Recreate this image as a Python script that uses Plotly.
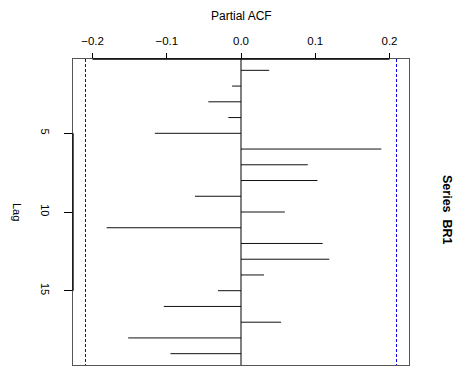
import plotly.graph_objects as go

# Data (rotated R PACF plot)
lags = list(range(1, 20))
pacf = [0.038, -0.012, -0.044, -0.017, -0.116, 0.189, 0.090, 0.103, -0.062,
        0.059, -0.181, 0.110, 0.119, 0.031, -0.031, -0.104, 0.054, -0.152, -0.095]
ci = 0.2095
x_ticks = [-0.2, -0.1, 0.0, 0.1, 0.2]
x_tick_labels = ["\u22120.2", "\u22120.1", "0.0", "0.1", "0.2"]
y_ticks = [5, 10, 15]
y_tick_labels = ["5", "10", "15"]

W, H = 457, 366
L, R, T, B = 73, 48, 59, 1
pw, ph = W - L - R, H - T - B

def px_x(p):
    return (p - L) / pw

def px_y(p):
    return (H - B - p) / ph

FONT = "Liberation Sans, Arial, Helvetica, sans-serif"

# build segments for bars
bx, by = [], []
for lag, v in zip(lags, pacf):
    bx += [0, v, None]
    by += [lag, lag, None]

x_range = [-0.2263, 0.2263]
y_range = [19.72, 0.28]

fig = go.Figure()
fig.add_trace(go.Scatter(x=bx, y=by, mode="lines",
                         line=dict(color="#111111", width=1),
                         hoverinfo="skip", showlegend=False))
for c in (-ci, ci):
    fig.add_trace(go.Scatter(x=[c, c], y=[y_range[1], y_range[0]], mode="lines",
                             line=dict(color="#0000ee", width=1, dash="3px,2px"),
                             hoverinfo="skip", showlegend=False))
fig.add_trace(go.Scatter(x=[0, 0], y=[y_range[1], y_range[0]], mode="lines",
                         line=dict(color="black", width=1),
                         hoverinfo="skip", showlegend=False))

# axis line segments (R style: from first to last tick)
fig.add_shape(type="line", xref="x", yref="paper", x0=x_ticks[0], x1=x_ticks[-1],
              y0=1, y1=1, line=dict(color="black", width=1.3))
fig.add_shape(type="line", xref="paper", yref="y", x0=0, x1=0,
              y0=y_ticks[0], y1=y_ticks[-1], line=dict(color="black", width=1.3))

fig.update_layout(
    width=W, height=H,
    margin=dict(l=L, r=R, t=T, b=B, pad=0),
    paper_bgcolor="white", plot_bgcolor="white",
    font=dict(family=FONT, color="black", size=12),
    xaxis=dict(range=x_range, side="top", tickvals=x_ticks, ticktext=x_tick_labels,
               ticks="outside", ticklen=5, tickcolor="black", tickwidth=1,
               showgrid=False, zeroline=False, showline=True, linecolor="#555555",
               linewidth=1, mirror=True, tickfont=dict(size=11.5, family=FONT),
               ticklabelstandoff=3),
    yaxis=dict(range=y_range, tickvals=y_ticks, ticktext=y_tick_labels,
               ticks="outside", ticklen=8, tickcolor="black", tickwidth=1,
               tickangle=90, showgrid=False, zeroline=False, showline=True,
               linecolor="#555555", linewidth=1, mirror=True,
               tickfont=dict(size=11, family=FONT), ticklabelstandoff=10),
    annotations=[
        dict(text="Partial ACF", xref="paper", yref="paper", x=px_x(241), y=px_y(15.7),
             xanchor="center", yanchor="middle", showarrow=False,
             font=dict(size=12, family=FONT)),
        dict(text="Lag", xref="paper", yref="paper", x=px_x(17), y=px_y(212),
             xanchor="center", yanchor="middle", showarrow=False, textangle=90,
             font=dict(size=11, family=FONT)),
        dict(text="<b>Series  BR1</b>", xref="paper", yref="paper", x=px_x(447),
             y=px_y(210), xanchor="center", yanchor="middle", showarrow=False,
             textangle=90, font=dict(size=12.5, family=FONT)),
    ],
)

fig.write_html("out.html")
